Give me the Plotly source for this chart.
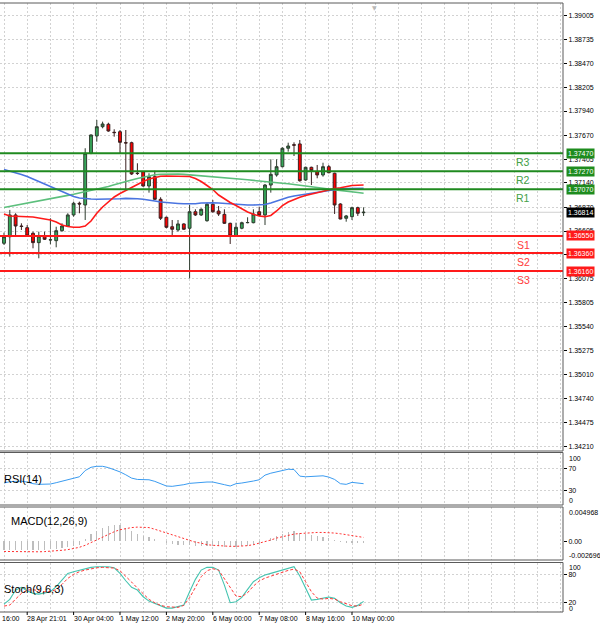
import plotly.graph_objects as go

# ---------------- data ----------------
bar_index = list(range(63))

opens = [1.36469, 1.36542, 1.36784, 1.36661, 1.36642, 1.36580, 1.36476, 1.36550, 1.36506, 1.36498,
         1.36609, 1.36661, 1.36784, 1.36914, 1.36895, 1.37470, 1.37663, 1.37766, 1.37793, 1.37704,
         1.37710, 1.37588, 1.37588, 1.37248, 1.37265, 1.37106, 1.37210, 1.36958, 1.36758, 1.36653,
         1.36617, 1.36684, 1.36636, 1.36820, 1.36784, 1.36720, 1.36903, 1.36828, 1.36791, 1.36691,
         1.36550, 1.36636, 1.36698, 1.36698, 1.36820, 1.36784, 1.37117, 1.37229, 1.37321, 1.37526,
         1.37566, 1.37574, 1.37173, 1.37314, 1.37265, 1.37229, 1.37321, 1.37248, 1.36906, 1.36747,
         1.36765, 1.36865, 1.36809]
highs = [1.36587, 1.36840, 1.36803, 1.36691, 1.36672, 1.36598, 1.36598, 1.36598, 1.36747, 1.36653,
         1.36691, 1.36803, 1.36932, 1.36932, 1.37526, 1.37680, 1.37841, 1.37822, 1.37810, 1.37737,
         1.37729, 1.37729, 1.37599, 1.37359, 1.37270, 1.37248, 1.37276, 1.36981, 1.36765, 1.36728,
         1.36728, 1.36691, 1.36895, 1.36847, 1.36858, 1.36920, 1.36951, 1.36884, 1.36847, 1.36698,
         1.36698, 1.36709, 1.36758, 1.36847, 1.36876, 1.37128, 1.37403, 1.37403, 1.37537, 1.37588,
         1.37592, 1.37618, 1.37321, 1.37321, 1.37340, 1.37365, 1.37340, 1.37254, 1.36914, 1.36784,
         1.36876, 1.36876, 1.36869]
lows = [1.36450, 1.36320, 1.36542, 1.36617, 1.36542, 1.36413, 1.36302, 1.36506, 1.36458, 1.36424,
        1.36598, 1.36653, 1.36765, 1.36803, 1.36728, 1.37460, 1.37599, 1.37748, 1.37710, 1.37655,
        1.37470, 1.37062, 1.37229, 1.37229, 1.37098, 1.37032, 1.36951, 1.36728, 1.36636, 1.36550,
        1.36598, 1.36617, 1.36079, 1.36773, 1.36773, 1.36709, 1.36809, 1.36773, 1.36684, 1.36461,
        1.36542, 1.36625, 1.36691, 1.36691, 1.36773, 1.36672, 1.37032, 1.37210, 1.37314, 1.37488,
        1.37440, 1.37154, 1.37165, 1.37117, 1.37192, 1.37210, 1.37248, 1.36795, 1.36736, 1.36709,
        1.36728, 1.36773, 1.36773]
closes = [1.36542, 1.36784, 1.36661, 1.36656, 1.36550, 1.36476, 1.36550, 1.36513, 1.36508, 1.36609,
          1.36661, 1.36784, 1.36914, 1.36906, 1.37470, 1.37674, 1.37766, 1.37796, 1.37718, 1.37700,
          1.37592, 1.37585, 1.37240, 1.37245, 1.37106, 1.37210, 1.36958, 1.36747, 1.36647, 1.36625,
          1.36684, 1.36625, 1.36820, 1.36784, 1.36847, 1.36903, 1.36820, 1.36795, 1.36691, 1.36550,
          1.36647, 1.36698, 1.36700, 1.36795, 1.36780, 1.37117, 1.37236, 1.37321, 1.37526, 1.37551,
          1.37560, 1.37165, 1.37314, 1.37276, 1.37229, 1.37321, 1.37254, 1.36895, 1.36739, 1.36773,
          1.36865, 1.36803, 1.36814]

ma_red = [1.36795, 1.36773, 1.36769, 1.36767, 1.36765, 1.36761, 1.36750, 1.36739, 1.36728, 1.36706,
          1.36672, 1.36656, 1.36647, 1.36647, 1.36661, 1.36717, 1.36803, 1.36873, 1.36934, 1.36984,
          1.37023, 1.37058, 1.37090, 1.37123, 1.37156, 1.37184, 1.37203, 1.37214, 1.37218, 1.37218,
          1.37218, 1.37218, 1.37212, 1.37190, 1.37156, 1.37112, 1.37067, 1.37006, 1.36962, 1.36923,
          1.36889, 1.36850, 1.36817, 1.36791, 1.36773, 1.36765, 1.36778, 1.36828, 1.36887, 1.36928,
          1.36958, 1.36981, 1.37001, 1.37017, 1.37034, 1.37051, 1.37067, 1.37079, 1.37087, 1.37101,
          1.37111, 1.37115, 1.37117]
ma_blue = [1.37290, 1.37273, 1.37256, 1.37234, 1.37212, 1.37184, 1.37156, 1.37128, 1.37098, 1.37067,
           1.37040, 1.37012, 1.36989, 1.36973, 1.36965, 1.36962, 1.36958, 1.36958, 1.36958, 1.36962,
           1.36965, 1.36969, 1.36969, 1.36965, 1.36958, 1.36951, 1.36939, 1.36928, 1.36920, 1.36915,
           1.36912, 1.36908, 1.36906, 1.36908, 1.36917, 1.36920, 1.36920, 1.36917, 1.36912, 1.36904,
           1.36898, 1.36895, 1.36895, 1.36895, 1.36895, 1.36900, 1.36917, 1.36939, 1.36962, 1.36981,
           1.36995, 1.37006, 1.37017, 1.37028, 1.37036, 1.37047, 1.37058, 1.37070, 1.37075, 1.37078,
           1.37081, 1.37081, 1.37081]
ma_green = [1.36867, 1.36880, 1.36893, 1.36906, 1.36917, 1.36930, 1.36944, 1.36957, 1.36971, 1.36982,
            1.36992, 1.37002, 1.37014, 1.37028, 1.37040, 1.37053, 1.37066, 1.37082, 1.37101, 1.37120,
            1.37140, 1.37156, 1.37173, 1.37190, 1.37206, 1.37221, 1.37231, 1.37236, 1.37240, 1.37240,
            1.37240, 1.37236, 1.37231, 1.37226, 1.37223, 1.37219, 1.37214, 1.37209, 1.37203, 1.37196,
            1.37190, 1.37182, 1.37175, 1.37170, 1.37164, 1.37157, 1.37151, 1.37144, 1.37137, 1.37131,
            1.37124, 1.37117, 1.37110, 1.37101, 1.37092, 1.37081, 1.37071, 1.37062, 1.37055, 1.37047,
            1.37041, 1.37033, 1.37026]

rsi14 = [44.3, 46.7, 47.3, 47.6, 46.1, 43.1, 41.9, 41.9, 42.5, 44.9,
         47.9, 49.6, 53.2, 55.6, 66.9, 72.8, 74.6, 74.6, 72.2, 68.7,
         64.5, 59.2, 53.2, 50.8, 50.2, 50.2, 47.3, 43.1, 38.9, 38.3,
         39.5, 41.3, 43.7, 44.9, 46.1, 46.1, 46.1, 44.3, 41.3, 38.9,
         43.1, 44.3, 45.5, 47.9, 50.2, 58.6, 62.1, 64.5, 67.5, 69.3,
         68.7, 56.8, 55.6, 56.2, 55.6, 57.4, 55.0, 50.8, 43.1, 41.9,
         45.5, 44.3, 43.1]

macd_main = [-0.00118, -0.00121, -0.00122, -0.00121, -0.00120, -0.00121, -0.00120, -0.00119, -0.00116, -0.00110,
             -0.00096, -0.00081, -0.00062, -0.00048, 0.00038, 0.00105, 0.00153, 0.00192, 0.00225, 0.00240,
             0.00230, 0.00192, 0.00144, 0.00105, 0.00081, 0.00057, 0.00038, 0.00010, -0.00024, -0.00038,
             -0.00048, -0.00057, -0.00057, -0.00062, -0.00067, -0.00072, -0.00072, -0.00072, -0.00077, -0.00081,
             -0.00077, -0.00072, -0.00062, -0.00048, -0.00034, 0.00010, 0.00048, 0.00072, 0.00105, 0.00129,
             0.00144, 0.00120, 0.00105, 0.00086, 0.00072, 0.00057, 0.00048, 0.00019, -0.00010, -0.00019,
             -0.00019, -0.00019, -0.00024]
macd_signal = [-0.00146, -0.00148, -0.00153, -0.00153, -0.00153, -0.00153, -0.00151, -0.00148, -0.00144, -0.00137,
               -0.00129, -0.00120, -0.00103, -0.00086, -0.00057, -0.00019, 0.00024, 0.00067, 0.00105, 0.00139,
               0.00168, 0.00189, 0.00199, 0.00206, 0.00204, 0.00199, 0.00175, 0.00148, 0.00122, 0.00093,
               0.00069, 0.00038, 0.00010, -0.00012, -0.00026, -0.00048, -0.00057, -0.00065, -0.00069, -0.00072,
               -0.00072, -0.00069, -0.00062, -0.00048, -0.00029, -0.00005, 0.00019, 0.00048, 0.00069, 0.00091,
               0.00105, 0.00113, 0.00120, 0.00125, 0.00129, 0.00129, 0.00127, 0.00120, 0.00110, 0.00096,
               0.00081, 0.00069, 0.00057]

stoch_main = [16.8, 26.7, 46.4, 52.1, 45.0, 39.4, 37.9, 40.8, 42.9, 53.5,
              67.5, 81.7, 85.2, 88.7, 91.5, 94.4, 95.7, 95.7, 95.7, 93.6,
              81.7, 66.1, 52.1, 46.4, 32.3, 23.1, 18.3, 12.5, 8.3, 8.3,
              11.9, 14.7, 42.9, 69.0, 88.7, 94.4, 94.4, 88.7, 56.9, 19.6,
              21.7, 30.9, 47.8, 64.0, 72.5, 78.1, 81.7, 85.2, 88.7, 91.5,
              95.7, 76.0, 50.0, 25.2, 26.7, 28.8, 31.6, 28.8, 19.6, 12.5,
              9.8, 14.0, 22.5]
stoch_signal = [12.5, 14.7, 27.3, 39.4, 46.4, 47.1, 45.0, 42.9, 42.9, 47.8,
                58.4, 71.1, 79.6, 85.2, 88.7, 91.5, 93.6, 94.4, 94.4, 92.9,
                87.3, 76.0, 63.3, 50.6, 39.4, 26.7, 19.6, 14.0, 11.2, 9.8,
                9.8, 14.0, 30.2, 52.1, 74.6, 87.3, 91.5, 88.7, 71.1, 53.5,
                33.7, 32.3, 40.8, 54.8, 65.4, 71.7, 76.0, 80.2, 84.4, 88.0,
                90.8, 85.2, 64.0, 42.9, 29.5, 27.3, 28.8, 27.3, 21.7, 16.8,
                13.3, 12.5, 16.8]

resistance_names = ["R3", "R2", "R1"]
resistance_levels = [1.37470, 1.37270, 1.37070]
support_names = ["S1", "S2", "S3"]
support_levels = [1.36550, 1.36360, 1.36160]
last_price = 1.36814

price_tick_labels = ["1.39005", "1.38735", "1.38470", "1.38205", "1.37940", "1.37670", "1.37405",
                     "1.37140", "1.36870", "1.36605", "1.36340", "1.36075", "1.35805", "1.35540",
                     "1.35275", "1.35010", "1.34740", "1.34475", "1.34210"]
price_tick_values = [float(s) for s in price_tick_labels]

date_tick_index = [4, 12, 20, 28, 36, 44, 52, 60]
date_tick_labels = ["28 Apr 21:01", "30 Apr 04:00", "1 May 12:00", "2 May 20:00",
                    "6 May 00:00", "7 May 08:00", "8 May 16:00", "10 May 00:00"]

# ---------------- layout constants ----------------
W, H = 600, 628
PLOT_RIGHT = 563 / W
FONT = "Liberation Sans"
GRID = "#D2D2D2"
GRID_DASH = "2px,2px"
AXIS_FONT = dict(family=FONT, size=7, color="#000000")


def dom(top_px, bot_px):
    return [1 - bot_px / H, 1 - top_px / H]


P_MAIN = (3, 451)
P_RSI = (452.5, 505)
P_MACD = (507, 560)
P_STOCH = (562.5, 612)

X_RANGE = [-0.69, 96.38]

fig = go.Figure()

# ---- main panel ----
fig.add_trace(go.Scatter(x=bar_index, y=ma_green, mode="lines",
                         line=dict(color="#5CBF7C", width=1.6), xaxis="x", yaxis="y"))
fig.add_trace(go.Scatter(x=bar_index, y=ma_blue, mode="lines",
                         line=dict(color="#4A74E0", width=1.6), xaxis="x", yaxis="y"))
fig.add_trace(go.Scatter(x=bar_index, y=ma_red, mode="lines",
                         line=dict(color="#FF1A1A", width=1.6), xaxis="x", yaxis="y"))
fig.add_trace(go.Candlestick(
    x=bar_index, open=opens, high=highs, low=lows, close=closes,
    xaxis="x", yaxis="y", whiskerwidth=0,
    increasing=dict(line=dict(color="#2E3B2E", width=1), fillcolor="#36A85A"),
    decreasing=dict(line=dict(color="#3A2020", width=1), fillcolor="#FF0000"),
))

# ---- RSI ----
fig.add_trace(go.Scatter(x=bar_index, y=rsi14, mode="lines",
                         line=dict(color="#3A9BF0", width=1), xaxis="x2", yaxis="y2"))

# ---- MACD ----
fig.add_trace(go.Bar(x=bar_index, y=macd_main, width=0.22,
                     marker=dict(color="#BDBDBD", line=dict(width=0)), xaxis="x3", yaxis="y3"))
fig.add_trace(go.Scatter(x=bar_index, y=macd_signal, mode="lines",
                         line=dict(color="#FF3030", width=1, dash="2px,2px"), xaxis="x3", yaxis="y3"))

# ---- Stochastic ----
fig.add_trace(go.Scatter(x=bar_index, y=stoch_main, mode="lines",
                         line=dict(color="#45C4B0", width=1.1), xaxis="x4", yaxis="y4"))
fig.add_trace(go.Scatter(x=bar_index, y=stoch_signal, mode="lines",
                         line=dict(color="#FF3A3A", width=1, dash="3px,2px"), xaxis="x4", yaxis="y4"))


def xaxis_def(anchor):
    return dict(domain=[0, PLOT_RIGHT], range=X_RANGE, anchor=anchor,
                tickmode="linear", tick0=0, dtick=4,
                showticklabels=False, ticks="",
                showgrid=True, gridcolor=GRID, griddash=GRID_DASH, gridwidth=1,
                zeroline=False, showline=False, fixedrange=True, automargin=False)


def yaxis_def(anchor, domain, rng, tickvals, ticktext, grid):
    return dict(domain=domain, range=rng, anchor=anchor, side="right",
                tickmode="array", tickvals=tickvals, ticktext=ticktext,
                ticks="outside", ticklen=3, tickcolor="#000000", tickfont=AXIS_FONT,
                showgrid=grid, gridcolor=GRID, griddash=GRID_DASH, gridwidth=1,
                zeroline=False, showline=False, fixedrange=True, automargin=False)


layout = dict(
    width=W, height=H, margin=dict(l=0, r=0, t=0, b=0),
    paper_bgcolor="#FFFFFF", plot_bgcolor="#FFFFFF",
    showlegend=False, hovermode=False, bargap=0,
    xaxis=dict(xaxis_def("y"), rangeslider=dict(visible=False)),
    xaxis2=dict(xaxis_def("y2"), matches="x"),
    xaxis3=dict(xaxis_def("y3"), matches="x"),
    xaxis4=dict(xaxis_def("y4"), matches="x"),
    yaxis=yaxis_def("x", dom(*P_MAIN), [1.34158, 1.39142], price_tick_values, price_tick_labels, True),
    yaxis2=yaxis_def("x2", dom(*P_RSI), [4.5, 99.6], [70, 30], ["70", "30"], True),
    yaxis3=yaxis_def("x3", dom(*P_MACD), [-0.002696, 0.004968], [0], ["0.00"], False),
    yaxis4=yaxis_def("x4", dom(*P_STOCH), [0, 104.7], [80, 20], ["80", "20"], True),
)
fig.update_layout(**layout)

shapes = []
annotations = []

# current price line
shapes.append(dict(type="line", xref="paper", yref="y", x0=0, x1=PLOT_RIGHT,
                   y0=last_price, y1=last_price, line=dict(color="#D0D0D0", width=1), layer="below"))

# pivot levels
for name, lvl in zip(resistance_names, resistance_levels):
    shapes.append(dict(type="line", xref="paper", yref="y", x0=0, x1=PLOT_RIGHT, y0=lvl, y1=lvl,
                       line=dict(color="#1F8A1F", width=2)))
    annotations.append(dict(xref="paper", yref="y", x=523 / W, y=lvl, yanchor="top", xanchor="center",
                            yshift=-1, text=name, showarrow=False,
                            font=dict(family=FONT, size=10.5, color="#43A047")))
    annotations.append(dict(xref="paper", yref="y", x=565.5 / W, y=lvl, xanchor="left", yanchor="middle",
                            text=f"{lvl:.5f}", showarrow=False, bgcolor="#1E8C1E", borderpad=1,
                            font=dict(family=FONT, size=7, color="#FFFFFF")))
for name, lvl in zip(support_names, support_levels):
    shapes.append(dict(type="line", xref="paper", yref="y", x0=0, x1=PLOT_RIGHT, y0=lvl, y1=lvl,
                       line=dict(color="#FF1A1A", width=2)))
    annotations.append(dict(xref="paper", yref="y", x=523 / W, y=lvl, yanchor="top", xanchor="center",
                            yshift=-1, text=name, showarrow=False,
                            font=dict(family=FONT, size=10.5, color="#FF3B3B")))
    annotations.append(dict(xref="paper", yref="y", x=565.5 / W, y=lvl, xanchor="left", yanchor="middle",
                            text=f"{lvl:.5f}", showarrow=False, bgcolor="#FF1A1A", borderpad=1,
                            font=dict(family=FONT, size=7, color="#FFFFFF")))

annotations.append(dict(xref="paper", yref="y", x=565.5 / W, y=last_price, xanchor="left", yanchor="middle",
                        text=f"{last_price:.5f}", showarrow=False, bgcolor="#000000", borderpad=1,
                        font=dict(family=FONT, size=7, color="#FFFFFF")))

# panel borders
for top, bot in (P_MAIN, P_RSI, P_MACD, P_STOCH):
    d = dom(top, bot)
    shapes.append(dict(type="rect", xref="paper", yref="paper", x0=-0.01, x1=PLOT_RIGHT,
                       y0=d[0], y1=d[1], line=dict(color="#5A5A5A", width=1), fillcolor="rgba(0,0,0,0)"))

# date tick marks under the bottom window
for idx in date_tick_index:
    shapes.append(dict(type="line", xref="x4", yref="paper", x0=idx, x1=idx,
                       y0=1 - P_STOCH[1] / H, y1=1 - (P_STOCH[1] + 3) / H,
                       line=dict(color="#000000", width=1)))

# indicator titles
annotations.append(dict(xref="paper", yref="paper", x=2 / W, y=1 - 478.5 / H, xanchor="left", yanchor="middle",
                        text="RSI(14)", showarrow=False, font=dict(family=FONT, size=11, color="#000000")))
annotations.append(dict(xref="paper", yref="paper", x=9 / W, y=1 - 520.5 / H, xanchor="left", yanchor="middle",
                        text="MACD(12,26,9)", showarrow=False, font=dict(family=FONT, size=11, color="#000000")))
annotations.append(dict(xref="paper", yref="paper", x=2 / W, y=1 - 588.5 / H, xanchor="left", yanchor="middle",
                        text="Stoch(9,6,3)", showarrow=False, font=dict(family=FONT, size=11, color="#000000")))

# edge scale labels of indicator windows
LX = 568 / W
edge_labels = [("100", P_RSI[0] + 1, "top"), ("0", P_RSI[1] - 0.5, "bottom"),
               ("0.004968", P_MACD[0] + 1, "top"), ("-0.002696", P_MACD[1] - 0.5, "bottom"),
               ("100", P_STOCH[0] + 0.5, "top"), ("0", P_STOCH[1] + 0.5, "bottom")]
for txt, ypx, anc in edge_labels:
    annotations.append(dict(xref="paper", yref="paper", x=LX, y=1 - ypx / H, xanchor="left", yanchor=anc,
                            text=txt, showarrow=False, font=AXIS_FONT, borderpad=0))

# date labels (left aligned at their tick, MT4 style)
for idx, lab in zip(date_tick_index, date_tick_labels):
    annotations.append(dict(xref="x4", yref="paper", x=idx, y=1 - 613.5 / H, xanchor="left", yanchor="top",
                            xshift=-1, text=lab, showarrow=False, font=AXIS_FONT, borderpad=0))
annotations.append(dict(xref="paper", yref="paper", x=1 / W, y=1 - 613.5 / H, xanchor="left", yanchor="top",
                        text="16:00", showarrow=False, font=AXIS_FONT, borderpad=0))

# chart shift marker
annotations.append(dict(xref="paper", yref="paper", x=374 / W, y=1 - 2 / H, xanchor="center", yanchor="top",
                        text="▼", showarrow=False, font=dict(family="DejaVu Sans", size=6, color="#B8B8B8")))

fig.update_layout(shapes=shapes, annotations=annotations)

fig.write_html("out.html", config={"displayModeBar": False, "staticPlot": True},
               post_script="document.body.style.margin='0';document.body.style.overflow='hidden';")
